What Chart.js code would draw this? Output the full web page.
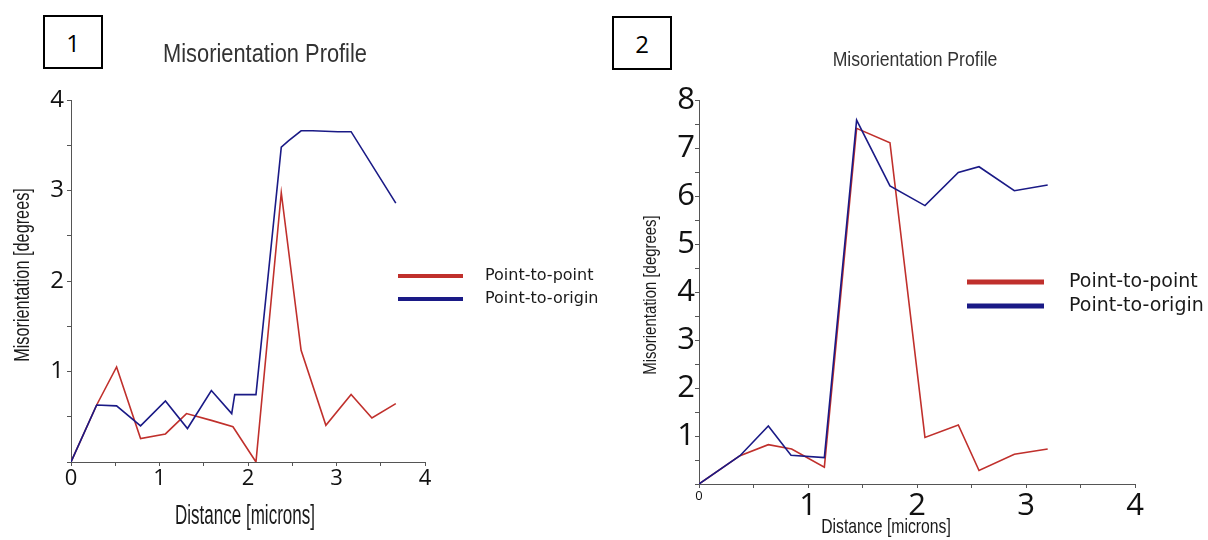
<!DOCTYPE html>
<html>
<head>
<meta charset="utf-8">
<script src="https://cdn.jsdelivr.net/npm/chart.js@4.4.1/dist/chart.umd.min.js"></script>
<style>
	body { margin: 0; background: #fff; width: 1208px; height: 540px; position: relative; overflow: hidden; }
	canvas { position: absolute; top: 0; }
	.panel { position: absolute; border: 2px solid #000; box-sizing: border-box; font-family: 'Open Sans', sans-serif; font-size: 24px; color: #000; display: flex; align-items: center; justify-content: center; }
</style>
</head>
<body>
<div class="panel" style="left:43px; top:15px; width:60px; height:54px;">1</div>
<div class="panel" style="left:612px; top:16px; width:60px; height:54px;">2</div>
<canvas id="chart1" width="604" height="540" style="left:0px;"></canvas>
<canvas id="chart2" width="604" height="540" style="left:604px;"></canvas>
<script>
// data
const seriesNames = ["Point-to-point", "Point-to-origin"];
const chartTitle = "Misorientation Profile";
const xAxisTitle = "Distance [microns]";
const yAxisTitle = "Misorientation [degrees]";

// profile 1
const p1PointX = [0, 0.29, 0.515, 0.786, 1.067, 1.305, 1.586, 1.83, 2.09, 2.376, 2.60, 2.88, 3.165, 3.40, 3.67];
const p1PointY = [0, 0.63, 1.05, 0.26, 0.31, 0.535, 0.46, 0.39, 0.0, 2.975, 1.235, 0.405, 0.745, 0.487, 0.645];
const p1OriginX = [0, 0.29, 0.515, 0.786, 1.067, 1.316, 1.586, 1.816, 1.85, 2.09, 2.376, 2.46, 2.60, 2.73, 3.015, 3.165, 3.67];
const p1OriginY = [0, 0.63, 0.62, 0.40, 0.675, 0.37, 0.79, 0.535, 0.745, 0.745, 3.48, 3.55, 3.66, 3.66, 3.65, 3.65, 2.86];

// profile 2
const p2PointX = [0, 0.376, 0.636, 0.85, 1.15, 1.446, 1.752, 2.073, 2.379, 2.569, 2.893, 3.199];
const p2PointY = [0, 0.59, 0.82, 0.73, 0.35, 7.41, 7.11, 0.97, 1.23, 0.28, 0.62, 0.73];
const p2OriginX = [0, 0.376, 0.636, 0.844, 1.15, 1.446, 1.752, 2.073, 2.379, 2.569, 2.893, 3.199];
const p2OriginY = [0, 0.59, 1.21, 0.60, 0.55, 7.58, 6.21, 5.80, 6.49, 6.61, 6.11, 6.23];

const xTickStep = 0.5;
const yTickStep = 0.5;

const RED = "#c0302c";
const BLUE = "#1a1a86";
const TEXTFONT = "'Liberation Sans', sans-serif";
const TICKFONT = "'Open Sans', sans-serif";

function pairs(xs, ys) {
	return xs.map((x, i) => ({x: x, y: ys[i]}));
}

// free text (titles) drawn at fixed places, squeezed sideways like the original
const textPlugin = {
	id: 'chartText',
	afterDraw(chart, args, opts) {
		const ctx = chart.ctx;
		(opts.items || []).forEach(t => {
			ctx.save();
			ctx.font = t.font;
			ctx.fillStyle = t.color || '#1a1a1a';
			ctx.textAlign = 'center';
			ctx.textBaseline = 'middle';
			ctx.translate(t.x, t.y);
			if (t.rotate) ctx.rotate(t.rotate);
			ctx.scale(t.squeeze || 1, 1);
			ctx.fillText(t.text, 0, 0);
			ctx.restore();
		});
	}
};

// legend drawn inside the plot like the original
const legendPlugin = {
	id: 'sideLegend',
	afterDraw(chart, args, opts) {
		if (!opts.x) return;
		const ctx = chart.ctx;
		chart.data.datasets.forEach((ds, i) => {
			const y = opts.y + i * opts.rowHeight;
			ctx.save();
			ctx.strokeStyle = ds.borderColor;
			ctx.lineWidth = opts.lineWidth;
			ctx.beginPath();
			ctx.moveTo(opts.x, y);
			ctx.lineTo(opts.x + opts.lineLength, y);
			ctx.stroke();
			ctx.font = opts.font;
			ctx.fillStyle = '#1a1a1a';
			ctx.textAlign = 'left';
			ctx.textBaseline = 'middle';
			ctx.fillText(ds.label, opts.textX, y);
			ctx.restore();
		});
	}
};

function makeChart(id, pointData, originData, s) {
	const canvas = document.getElementById(id);
	return new Chart(canvas, {
		type: 'scatter',
		data: {
			datasets: [
				{label: seriesNames[0], data: pointData, borderColor: RED, showLine: true, pointRadius: 0, borderWidth: 1.6, order: 1},
				{label: seriesNames[1], data: originData, borderColor: BLUE, showLine: true, pointRadius: 0, borderWidth: 1.6, order: 0}
			]
		},
		options: {
			responsive: false,
			animation: false,
			layout: {padding: {top: s.top, right: canvas.width - s.right, left: 0, bottom: 0}},
			plugins: {
				legend: {display: false},
				tooltip: {enabled: false},
				chartText: {items: s.texts},
				sideLegend: s.legend
			},
			scales: {
				x: {
					type: 'linear',
					min: 0, max: 4,
					afterFit: scale => { scale.height = canvas.height - s.bottom; },
					border: {color: '#555', width: 1},
					grid: {drawOnChartArea: false, color: '#555', tickLength: 4},
					ticks: {
						stepSize: xTickStep,
						autoSkip: false,
						maxRotation: 0,
						padding: s.xPad,
						color: '#111',
						font: ctx => ({family: TICKFONT, size: (ctx.tick && ctx.tick.value === 0) ? s.xZeroSize : s.xTickSize}),
						callback: v => Number.isInteger(v) ? String(v) : ''
					}
				},
				y: {
					type: 'linear',
					min: 0, max: s.yMax,
					afterFit: scale => { scale.width = s.left; },
					border: {color: '#555', width: 1},
					grid: {drawOnChartArea: false, color: '#555', tickLength: 4},
					ticks: {
						stepSize: yTickStep,
						autoSkip: false,
						padding: s.yPad,
						color: '#111',
						font: {family: TICKFONT, size: s.yTickSize},
						callback: v => (Number.isInteger(v) && v !== 0) ? String(v) : ''
					}
				}
			}
		},
		plugins: [textPlugin, legendPlugin]
	});
}

makeChart("chart1", pairs(p1PointX, p1PointY), pairs(p1OriginX, p1OriginY), {
	left: 71, right: 425, top: 100, bottom: 462, yMax: 4,
	xTickSize: 22, xZeroSize: 22, yTickSize: 24, xPad: 0, yPad: 3,
	texts: [
		{text: chartTitle, x: 265, y: 55, font: "26px " + TEXTFONT, color: '#333', squeeze: 0.84},
		{text: xAxisTitle, x: 245, y: 517, font: "27px " + TEXTFONT, squeeze: 0.63},
		{text: yAxisTitle, x: 23, y: 275, font: "22px " + TEXTFONT, rotate: -Math.PI / 2, squeeze: 0.74}
	],
	legend: {x: 398, y: 276, rowHeight: 23, lineLength: 65, lineWidth: 4, textX: 485, font: "16px 'DejaVu Sans', sans-serif"}
});

makeChart("chart2", pairs(p2PointX, p2PointY), pairs(p2OriginX, p2OriginY), {
	left: 95, right: 531, top: 100, bottom: 484, yMax: 8,
	xTickSize: 31, xZeroSize: 13, yTickSize: 31, xPad: 0, yPad: 0,
	texts: [
		{text: chartTitle, x: 311, y: 60, font: "21px " + TEXTFONT, color: '#333', squeeze: 0.84},
		{text: xAxisTitle, x: 282, y: 527, font: "21px " + TEXTFONT, squeeze: 0.75},
		{text: yAxisTitle, x: 47, y: 295, font: "18px " + TEXTFONT, rotate: -Math.PI / 2, squeeze: 0.83}
	],
	legend: {x: 363, y: 282, rowHeight: 24, lineLength: 77, lineWidth: 5, textX: 465, font: "19px 'DejaVu Sans', sans-serif"}
});
</script>
</body>
</html>
